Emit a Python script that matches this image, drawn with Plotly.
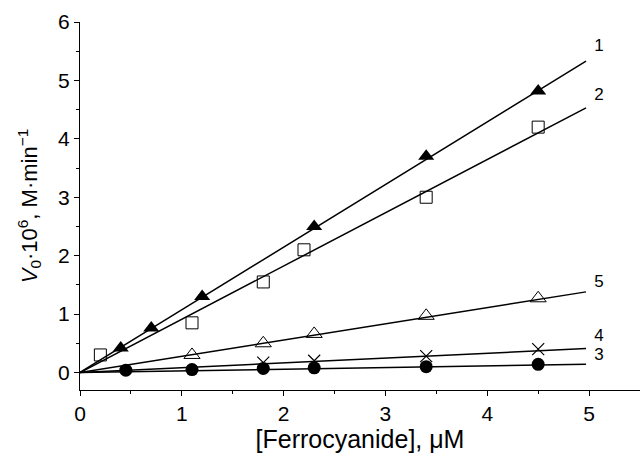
import plotly.graph_objects as go

# Data
s1_x = [0.4, 0.7, 1.2, 2.3, 3.4, 4.5]
s1_y = [0.42, 0.76, 1.3, 2.5, 3.7, 4.82]
s2_x = [0.2, 1.1, 1.8, 2.2, 3.4, 4.5]
s2_y = [0.3, 0.85, 1.55, 2.1, 3.0, 4.2]
s3_x = [0.45, 1.1, 1.8, 2.3, 3.4, 4.5]
s3_y = [0.04, 0.05, 0.07, 0.08, 0.1, 0.14]
s4_x = [1.8, 2.3, 3.4, 4.5]
s4_y = [0.17, 0.2, 0.28, 0.4]
s5_x = [1.1, 1.8, 2.3, 3.4, 4.5]
s5_y = [0.3, 0.5, 0.66, 0.97, 1.27]

fit_x = [0, 4.97]
fit1_y = [0, 5.33]
fit2_y = [0, 4.53]
fit3_y = [0, 0.14]
fit4_y = [0, 0.41]
fit5_y = [0, 1.38]

labels = ["1", "2", "3", "4", "5"]
label_x = [5.05, 5.05, 5.05, 5.05, 5.05]
label_y = [5.58, 4.73, 0.29, 0.62, 1.54]

FONT = "Liberation Sans, Arial, sans-serif"

fig = go.Figure()
line = dict(color="black", width=1.5)
for fy in [fit1_y, fit2_y, fit3_y, fit4_y, fit5_y]:
    fig.add_trace(go.Scatter(x=fit_x, y=fy, mode="lines", line=line, showlegend=False, hoverinfo="skip"))

fig.add_trace(go.Scatter(x=s1_x, y=s1_y, mode="markers",
                         marker=dict(symbol="triangle-up", size=14, color="black"), showlegend=False))
fig.add_trace(go.Scatter(x=s2_x, y=s2_y, mode="markers",
                         marker=dict(symbol="square-open", size=12, color="black", line=dict(width=1)), showlegend=False))
fig.add_trace(go.Scatter(x=s5_x, y=s5_y, mode="markers",
                         marker=dict(symbol="triangle-up-open", size=14, color="black", line=dict(width=1)), showlegend=False))
fig.add_trace(go.Scatter(x=s4_x, y=s4_y, mode="markers",
                         marker=dict(symbol="x-thin-open", size=12, color="black", line=dict(width=1.2, color="black")), showlegend=False))
fig.add_trace(go.Scatter(x=s3_x, y=s3_y, mode="markers",
                         marker=dict(symbol="circle", size=13, color="black"), showlegend=False))

fig.add_trace(go.Scatter(x=label_x, y=label_y, mode="text", text=labels,
                         textposition="middle right",
                         textfont=dict(family=FONT, size=17, color="black"),
                         showlegend=False, hoverinfo="skip"))

axis_common = dict(
    showline=True, linecolor="black", linewidth=1.2,
    ticks="outside", ticklen=5, tickwidth=1.2, tickcolor="black",
    showgrid=False, zeroline=False,
    tickfont=dict(family=FONT, size=21, color="black"),
    minor=dict(ticks="outside", ticklen=3, tickwidth=1.2, tickcolor="black", dtick=0.5, showgrid=False),
)

fig.update_layout(
    width=640, height=455,
    margin=dict(l=80, r=0, t=22, b=65),
    plot_bgcolor="white", paper_bgcolor="white",
    xaxis=dict(range=[0, 5.5], tickvals=[0, 1, 2, 3, 4, 5],
               title=dict(text="[Ferrocyanide], μM", standoff=2,
                          font=dict(family=FONT, size=25, color="black")),
               **axis_common),
    yaxis=dict(range=[-0.3, 6], tickvals=[0, 1, 2, 3, 4, 5, 6],
               title=dict(text="<i>V</i><sub>0</sub>·10<sup>6</sup>, M·min<sup>−1</sup>", standoff=14,
                          font=dict(family=FONT, size=22, color="black")),
               **axis_common),
)

fig.write_html("out.html")
